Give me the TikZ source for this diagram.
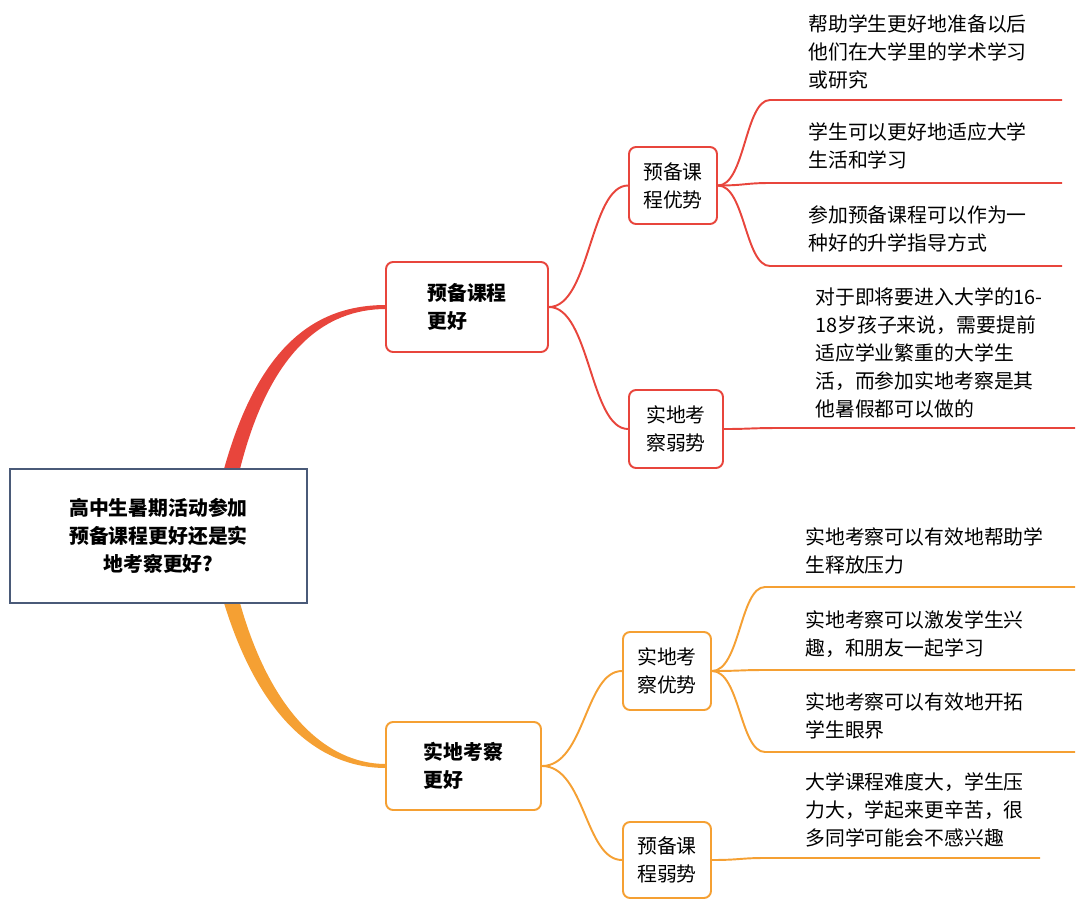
\documentclass[tikz,border=0pt]{standalone}
\usepackage{fontspec}
\setmainfont{Noto Sans CJK SC}
\usetikzlibrary{positioning, calc}
\definecolor{cred}{HTML}{E8453C}
\definecolor{corange}{HTML}{F5A033}
\definecolor{croot}{HTML}{4A5A78}
\tikzset{
	x=0.02cm, y=-0.02cm,
	every node/.style={font=\fontsize{11.3}{16}\selectfont},
	rootbox/.style={draw=croot, line width=1.3pt, fill=white, minimum width=5.94cm, minimum height=2.68cm, align=center, font=\fontsize{11.3}{16}\selectfont\bfseries},
	topicbox/.style={draw, line width=1.1pt, rounded corners=4pt, fill=white, align=left, font=\fontsize{11.3}{16}\selectfont\bfseries},
	subbox/.style={draw, line width=1.1pt, rounded corners=4pt, fill=white, align=left, minimum width=1.76cm, minimum height=1.54cm},
	leaf/.style={anchor=north west, align=left, inner sep=0pt},
	link/.style={line width=1.1pt},
}
\begin{document}
\begin{tikzpicture}
	\useasboundingbox (0,0) rectangle (1080,907);
	% main branches
	\fill[cred] (224,469) .. controls (260,340) and (320,305) .. (386,305) -- (386,309) .. controls (325,309) and (270,350) .. (240,469) -- cycle;
	\fill[corange] (224,603) .. controls (260,720) and (320,768) .. (386,768) -- (386,764) .. controls (325,764) and (270,710) .. (240,603) -- cycle;

	\node[rootbox] (ROOT) at (158.5,536) {高中生暑期活动参加\\预备课程更好还是实\\地考察更好?};
	\node[topicbox, draw=cred, minimum width=3.24cm, minimum height=1.8cm] (PREP) at (467,307) {预备课程\\更好};
	\node[topicbox, draw=corange, minimum width=3.1cm, minimum height=1.76cm] (FIELD) at (463.5,766) {实地考察\\更好};

	\node[subbox, draw=cred] (PREPADV) at (673,185.5) {预备课\\程优势};
	\node[subbox, draw=cred, minimum width=1.88cm, minimum height=1.56cm] (FIELDWEAK) at (676,429) {实地考\\察弱势};
	\node[subbox, draw=corange, minimum height=1.56cm] (FIELDADV) at (667,671) {实地考\\察优势};
	\node[subbox, draw=corange, minimum height=1.52cm] (PREPWEAK) at (667,860) {预备课\\程弱势};

	\draw[link, cred] (PREP.east) .. controls (590,307) and (590,185.5) .. (PREPADV.west);
	\draw[link, cred] (PREP.east) .. controls (590,307) and (590,429) .. (FIELDWEAK.west);
	\draw[link, corange] (FIELD.east) .. controls (585,766) and (585,671) .. (FIELDADV.west);
	\draw[link, corange] (FIELD.east) .. controls (585,766) and (585,860) .. (PREPWEAK.west);

	% leaves
	\node[leaf] (L1) at (808,14) {帮助学生更好地准备以后\\他们在大学里的学术学习\\或研究};
	\node[leaf] (L2) at (808,122) {学生可以更好地适应大学\\生活和学习};
	\node[leaf] (L3) at (808,205) {参加预备课程可以作为一\\种好的升学指导方式};
	\node[leaf] (L4) at (815,287) {对于即将要进入大学的16-\\18岁孩子来说，需要提前\\适应学业繁重的大学生\\活，而参加实地考察是其\\他暑假都可以做的};
	\node[leaf] (L5) at (805,527) {实地考察可以有效地帮助学\\生释放压力};
	\node[leaf] (L6) at (805,610) {实地考察可以激发学生兴\\趣，和朋友一起学习};
	\node[leaf] (L7) at (805,692) {实地考察可以有效地开拓\\学生眼界};
	\node[leaf] (L8) at (805,772) {大学课程难度大，学生压\\力大，学起来更辛苦，很\\多同学可能会不感兴趣};

	\coordinate (A1) at (770,100); \coordinate (B1) at (1062,100);
	\coordinate (A2) at (770,183); \coordinate (B2) at (1062,183);
	\coordinate (A3) at (770,266); \coordinate (B3) at (1062,266);
	\coordinate (A4) at (780,428); \coordinate (B4) at (1075,428);
	\coordinate (A5) at (765,587); \coordinate (B5) at (1075,587);
	\coordinate (A6) at (765,670); \coordinate (B6) at (1075,670);
	\coordinate (A7) at (765,752); \coordinate (B7) at (1075,752);
	\coordinate (A8) at (765,858); \coordinate (B8) at (1040,858);

	\draw[link, cred] (PREPADV.east) .. controls (745,185.5) and (745,100) .. (A1) -- (B1);
	\draw[link, cred] (PREPADV.east) .. controls (745,185.5) and (745,183) .. (A2) -- (B2);
	\draw[link, cred] (PREPADV.east) .. controls (745,185.5) and (745,266) .. (A3) -- (B3);
	\draw[link, cred] (FIELDWEAK.east) .. controls (750,429) and (750,428) .. (A4) -- (B4);
	\draw[link, corange] (FIELDADV.east) .. controls (740,671) and (740,587) .. (A5) -- (B5);
	\draw[link, corange] (FIELDADV.east) .. controls (740,671) and (740,670) .. (A6) -- (B6);
	\draw[link, corange] (FIELDADV.east) .. controls (740,671) and (740,752) .. (A7) -- (B7);
	\draw[link, corange] (PREPWEAK.east) .. controls (740,860) and (740,858) .. (A8) -- (B8);
\end{tikzpicture}
\end{document}
